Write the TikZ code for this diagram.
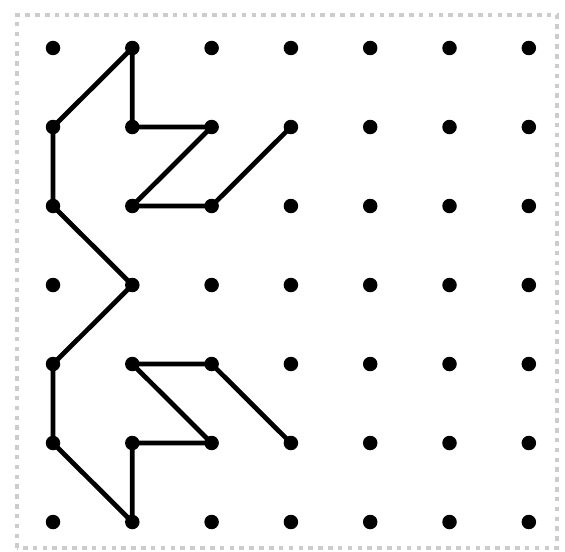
\documentclass[tikz,border=0pt]{standalone}
\usepackage{tikz}

\tikzset{
  dot/.style={circle, fill=black, inner sep=0pt, minimum size=0.29cm},
  shape line/.style={line width=2.7pt, line join=round, line cap=round},
  frame/.style={gray!40, line width=2pt, dash pattern=on 2.6pt off 3pt}
}

\begin{document}
\begin{tikzpicture}
  \useasboundingbox (0,0) rectangle (11.3,11.02);

  % ── dotted frame ──
  \draw[frame] (0.34,0.06) rectangle (11.14,10.72);

  % ── 7 x 7 dot grid ──
  \foreach \i in {0,...,6} {
    \foreach \j in {0,...,6} {
      \node[dot] (d-\i-\j) at ({1.06 + 1.586*\i}, {10.06 - 1.58*\j}) {};
    }
  }

  % ── the figure ──
  \draw[shape line] (d-3-1.center) -- (d-2-2.center) -- (d-1-2.center)
    -- (d-2-1.center) -- (d-1-1.center) -- (d-1-0.center) -- (d-0-1.center)
    -- (d-0-2.center) -- (d-1-3.center) -- (d-0-4.center) -- (d-0-5.center)
    -- (d-1-6.center) -- (d-1-5.center) -- (d-2-5.center) -- (d-1-4.center)
    -- (d-2-4.center) -- (d-3-5.center);
\end{tikzpicture}
\end{document}
